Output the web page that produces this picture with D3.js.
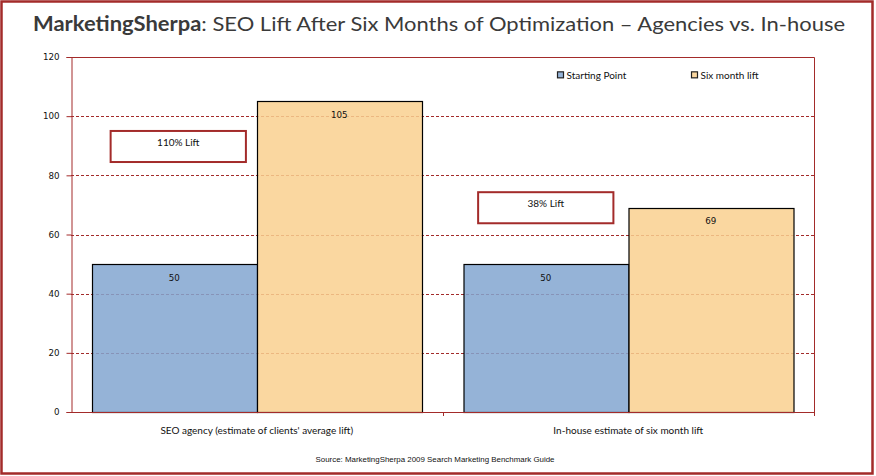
<!DOCTYPE html>
<html>
<head>
<meta charset="utf-8">
<script src="https://cdn.jsdelivr.net/npm/d3@7"></script>
<style>
  body { margin: 0; background: #fff; }
  svg { display: block; }
</style>
</head>
<body>
<div id="chart"></div>
<script>
// 数据
const categories = ['SEO agency (estimate of clients\' average lift)', 'In-house estimate of six month lift']
const seriesNames = ['Starting Point', 'Six month lift']
const startingPoint = [50, 50]
const sixMonthLift = [105, 69]
const liftLabels = ['110% Lift', '38% Lift']
const liftBoxTop = [95, 74.3] // 文本框上沿（y轴数值）
const yTicks = [0, 20, 40, 60, 80, 100, 120]

const width = 876
const height = 476
const margin = { top: 57, right: 62, bottom: 64, left: 71 }
const red = '#a32b2a'
const colors = ['#82a6d0', '#f9d08f'] // 半透明叠加后接近 #95b3d7 / #fad7a0
const legendColors = ['#95b3d7', '#fad7a0']
const boxShift = [4, 0] // 文本框水平微调

const svg = d3.select('#chart').append('svg')
  .attr('width', width)
  .attr('height', height)

// 外框
svg.append('rect')
  .attr('x', 1.5).attr('y', 1.5)
  .attr('width', width - 5).attr('height', height - 4)
  .attr('fill', 'none')
  .attr('stroke', red)
  .attr('stroke-width', 2.5)

// 标题
const title = svg.append('text')
  .attr('x', 33).attr('y', 31)
  .attr('font-family', 'Lato, sans-serif')
  .attr('font-size', 20)
  .attr('fill', '#3a3a3a')
  .attr('textLength', 812)
  .attr('lengthAdjust', 'spacingAndGlyphs')
title.append('tspan').attr('font-weight', 'bold').text('MarketingSherpa')
title.append('tspan').text(': SEO Lift After Six Months of Optimization – Agencies vs. In-house')

const x0 = d3.scaleBand()
  .domain(categories)
  .range([margin.left, width - margin.right])

const x1 = d3.scaleBand()
  .domain(seriesNames)
  .range([0, x0.bandwidth()])
  .paddingOuter(0.126)
  .paddingInner(0)

const y = d3.scaleLinear()
  .domain([0, 120])
  .range([height - margin.bottom, margin.top])

const g = svg.append('g')

// 网格线
g.append('g')
  .selectAll('line')
  .data(yTicks.filter((d) => d > 0 && d < 120))
  .join('line')
  .attr('x1', margin.left)
  .attr('x2', width - margin.right)
  .attr('y1', (d) => Math.round(y(d)) + 0.5)
  .attr('y2', (d) => Math.round(y(d)) + 0.5)
  .attr('stroke', red)
  .attr('stroke-dasharray', '3,2')

// 柱子
const rows = categories.map((c, i) => ({ cat: c, values: [startingPoint[i], sixMonthLift[i]] }))

const group = g.append('g')
  .selectAll('g')
  .data(rows)
  .join('g')
  .attr('transform', (d) => `translate(${x0(d.cat)},0)`)

group.selectAll('rect')
  .data((d) => d.values.map((v, i) => ({ key: seriesNames[i], value: v })))
  .join('rect')
  .attr('x', (d) => Math.round(x1(d.key)) + 0.5)
  .attr('y', (d) => Math.round(y(d.value)) + 0.5)
  .attr('width', Math.round(x1.bandwidth()))
  .attr('height', (d) => Math.round(y(0)) - Math.round(y(d.value)))
  .attr('fill', (d, i) => colors[i])
  .attr('fill-opacity', 0.85)
  .attr('stroke', '#000')
  .attr('stroke-width', 1.2)

group.selectAll('text.val')
  .data((d) => d.values.map((v, i) => ({ key: seriesNames[i], value: v })))
  .join('text')
  .attr('class', 'val')
  .attr('x', (d) => x1(d.key) + x1.bandwidth() / 2)
  .attr('y', (d) => y(d.value) + 16.5)
  .attr('text-anchor', 'middle')
  .attr('font-family', 'DejaVu Sans, sans-serif')
  .attr('font-size', 8.7)
  .attr('fill', '#111')
  .text((d) => d.value)

// 提升文本框
const boxW = x1.bandwidth() * 0.82
const boxH = y(0) - y(10.5)
const lift = g.append('g')
  .selectAll('g')
  .data(categories.map((c, i) => ({ cat: c, label: liftLabels[i], top: liftBoxTop[i], i })))
  .join('g')
  .attr('transform', (d) => `translate(${x0(d.cat) + x1(seriesNames[0]) + x1.bandwidth() / 2 + boxShift[d.i]},${y(d.top)})`)

lift.append('rect')
  .attr('x', -boxW / 2)
  .attr('y', 0)
  .attr('width', boxW)
  .attr('height', boxH)
  .attr('fill', '#fff')
  .attr('stroke', red)
  .attr('stroke-width', 2)

lift.append('text')
  .attr('y', 15)
  .attr('text-anchor', 'middle')
  .attr('font-family', 'Lato, sans-serif')
  .attr('font-size', 10)
  .attr('fill', '#111')
  .text((d) => d.label)

// 坐标轴
const yAxis = svg.append('g')
  .attr('transform', `translate(${margin.left + 0.5},0)`)
  .call(d3.axisLeft(y).tickValues(yTicks).tickSize(5).tickPadding(7))
yAxis.select('.domain').attr('stroke', red)
yAxis.selectAll('.tick line').attr('stroke', red)
yAxis.selectAll('.tick text')
  .attr('font-family', 'DejaVu Sans, sans-serif')
  .attr('font-size', 8.7)
  .attr('fill', '#111')

// 上、右边框
svg.append('path')
  .attr('d', `M${margin.left},${margin.top + 0.5}H${width - margin.right + 0.5}V${height - margin.bottom}`)
  .attr('fill', 'none')
  .attr('stroke', red)

// x轴
const xb = svg.append('g')
xb.append('line')
  .attr('x1', margin.left).attr('x2', width - margin.right + 1)
  .attr('y1', Math.round(y(0)) + 0.5).attr('y2', Math.round(y(0)) + 0.5)
  .attr('stroke', red)
xb.selectAll('line.tk')
  .data(categories.slice(1).map((c) => x0(c)).concat([width - margin.right]))
  .join('line')
  .attr('class', 'tk')
  .attr('x1', (d) => Math.round(d) + 0.5).attr('x2', (d) => Math.round(d) + 0.5)
  .attr('y1', y(0)).attr('y2', y(0) + 4)
  .attr('stroke', red)

xb.selectAll('text')
  .data(categories)
  .join('text')
  .attr('x', (d) => x0(d) + x0.bandwidth() / 2)
  .attr('y', y(0) + 22)
  .attr('text-anchor', 'middle')
  .attr('font-family', 'Lato, sans-serif')
  .attr('font-size', 10)
  .attr('fill', '#111')
  .text((d) => d)

// 图例
const legend = svg.append('g')
  .selectAll('g')
  .data(seriesNames)
  .join('g')
  .attr('transform', (d, i) => `translate(${557 + i * 134},${y(113.8)})`)
legend.append('rect')
  .attr('x', 0.5).attr('y', -3.5)
  .attr('width', 6).attr('height', 6)
  .attr('fill', (d, i) => legendColors[i])
  .attr('stroke', '#222')
  .attr('stroke-width', 1.2)
legend.append('text')
  .attr('x', 9.5).attr('y', 3.5)
  .attr('font-family', 'Lato, sans-serif')
  .attr('font-size', 10)
  .attr('fill', '#111')
  .text((d) => d)

// 来源
svg.append('text')
  .attr('x', 435).attr('y', 462)
  .attr('text-anchor', 'middle')
  .attr('font-family', '"Liberation Sans Narrow", "Liberation Sans", sans-serif')
  .attr('font-size', 8)
  .attr('fill', '#111')
  .attr('textLength', 239)
  .attr('lengthAdjust', 'spacingAndGlyphs')
  .text('Source: MarketingSherpa 2009 Search Marketing Benchmark Guide')
</script>
</body>
</html>
